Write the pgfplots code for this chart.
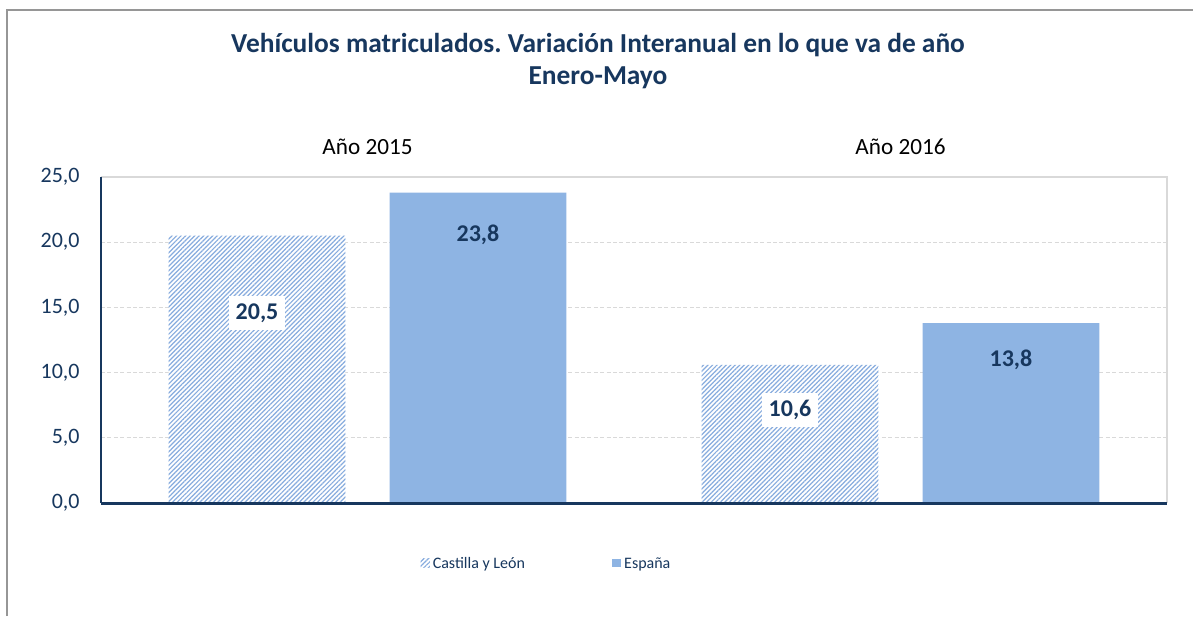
\documentclass[border=0pt]{standalone}
\usepackage{fontspec}
\setmainfont{Carlito}
\usepackage{pgfplots}
\pgfplotsset{compat=1.18}
\usetikzlibrary{patterns.meta}
\definecolor{navy}{RGB}{23,55,94}
\definecolor{barblue}{RGB}{142,180,227}
\definecolor{hatchblue}{RGB}{135,172,222}
\definecolor{gridgray}{RGB}{217,217,217}
\definecolor{framegray}{RGB}{150,150,150}
\frenchspacing

\pgfplotstableread{
x y
-0.2073 20.5
0.7927 10.6
}\cyl
\pgfplotstableread{
x y
0.2073 23.8
1.2073 13.8
}\esp
\pgfplotstableread{
x y label
-0.2073 14.57 20,5
0.7927 7.10 10,6
}\cyllab
\pgfplotstableread{
x y label
0.2073 20.6 23,8
1.2073 11.0 13,8
}\esplab

\begin{document}
\begin{tikzpicture}[x=0.5pt,y=0.5pt]
\path[use as bounding box] (0,0) rectangle (1193,616);
\fill[white] (0,0) rectangle (1193,616);
\draw[framegray, line width=1.1pt] (7,0) -- (7,606) -- (1193,606);
\node[navy, font=\fontsize{13.7}{16}\selectfont\bfseries, align=center] at (598,555)
  {Vehículos matriculados. Variación Interanual en lo que va de año\\Enero-Mayo};
\begin{axis}[
  at={(50.5pt,56.5pt)}, anchor=south west,
  scale only axis, width=533pt, height=163pt,
  xmin=-0.5, xmax=1.5, ymin=0, ymax=25,
  axis line style={draw=none},
  major tick length=0pt,
  ytick={0,5,...,25},
  ymajorgrids, grid style={gridgray, line width=0.6pt, dash pattern=on 2pt off 1.2pt},
  yticklabel style={navy, font=\fontsize{11}{13}\selectfont, anchor=east, inner sep=0pt, xshift=-10.5pt},
  /pgf/number format/.cd, fixed, fixed zerofill, precision=1, use comma, assume math mode=true,
  /pgfplots/.cd,
  xtick={0,1}, xticklabels={Año 2015, Año 2016},
  xticklabel pos=right,
  xticklabel style={black, font=\fontsize{11.6}{13}\selectfont, anchor=center, inner sep=0pt, yshift=15pt},
  bar width=0.332,
  legend columns=2,
  legend style={at={(0.4184,-0.184)}, anchor=center, draw=none, fill=none,
    font=\fontsize{8}{9.6}\selectfont, text=navy, inner sep=0pt,
    /tikz/every even column/.append style={column sep=42pt},
    nodes={inner sep=1.5pt, text height=1.6ex, text depth=0.4ex}},
  legend image code/.code={\path[#1, draw=none] (0pt,-2.2pt) rectangle (4.6pt,2.2pt);},
  clip=false,
]
\addplot[ybar, bar shift=0pt, draw=none, fill=white,
  postaction={pattern={Lines[angle=45, distance=1.6pt, line width=0.6pt]}, pattern color=hatchblue}]
  table[x=x,y=y]{\cyl};
\addlegendentry{Castilla y León}
\addplot[ybar, bar shift=0pt, draw=none, fill=barblue] table[x=x,y=y]{\esp};
\addlegendentry{España}
\draw[gridgray, line width=1pt] (rel axis cs:0,1) -- (rel axis cs:1,1) -- (rel axis cs:1,0);
\draw[navy, line width=1pt] (rel axis cs:0,0) -- (rel axis cs:0,1);
\draw[navy, line width=1.5pt] (rel axis cs:0,0) -- (rel axis cs:1,0);
\addplot[draw=none, mark=none, forget plot, nodes near coords, point meta=explicit symbolic,
  every node near coord/.style={anchor=center, fill=white, text=navy, inner xsep=3.5pt,
    minimum height=17pt, font=\fontsize{12}{14}\selectfont\bfseries}]
  table[x=x,y=y,meta=label]{\cyllab};
\addplot[draw=none, mark=none, forget plot, nodes near coords, point meta=explicit symbolic,
  every node near coord/.style={anchor=center, text=navy,
    font=\fontsize{12}{14}\selectfont\bfseries}]
  table[x=x,y=y,meta=label]{\esplab};
\end{axis}
\end{tikzpicture}
\end{document}
